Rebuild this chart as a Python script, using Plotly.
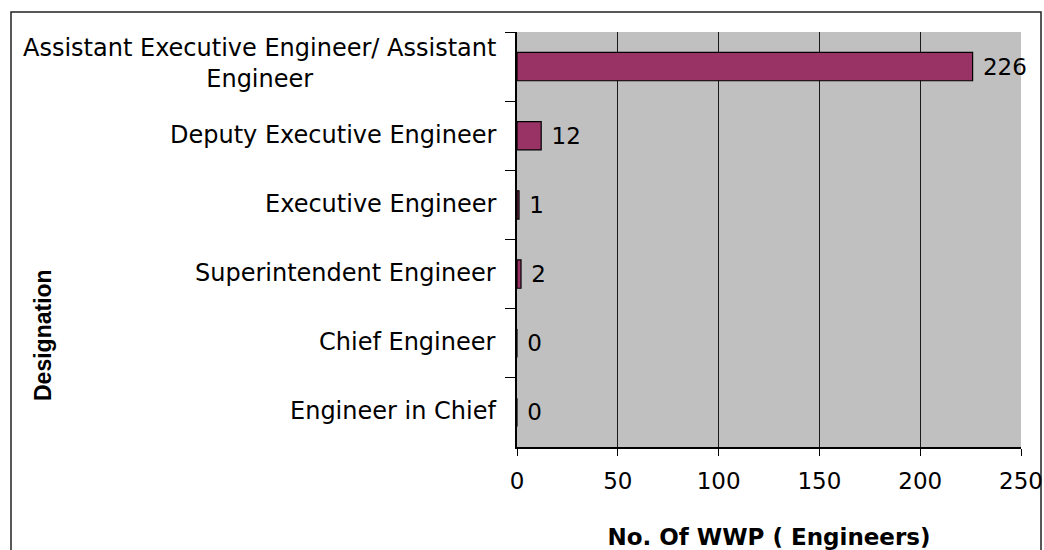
import plotly.graph_objects as go

categories = [
    "Assistant Executive Engineer/ Assistant<br>Engineer",
    "Deputy Executive Engineer",
    "Executive Engineer",
    "Superintendent Engineer",
    "Chief Engineer",
    "Engineer in Chief",
]
values = [226, 12, 1, 2, 0, 0]
x_ticks = [0, 50, 100, 150, 200, 250]
x_title = "No. Of WWP ( Engineers)"
y_title = "Designation"

FONT = "DejaVu Sans"
FS = 23

fig = go.Figure()
fig.add_trace(go.Bar(
    x=values,
    y=categories,
    orientation="h",
    marker=dict(color="#993366", line=dict(color="#000000", width=1.2)),
    text=[str(v) for v in values],
    texttemplate=" %{text}",
    textposition="outside",
    textfont=dict(family=FONT, size=FS, color="#000000"),
    cliponaxis=False,
    width=0.41,
    showlegend=False,
))

# category labels (centered multi-line block, right-aligned to the axis)
for i, c in enumerate(categories):
    fig.add_annotation(
        x=0, xref="paper", y=c, yref="y",
        xanchor="right", yanchor="middle", xshift=-19,
        yshift=3 if i == 0 else 1,
        text=c, showarrow=False, align="center",
        font=dict(family=FONT, size=24, color="#000000"),
    )

fig.add_annotation(
    x=(43 - 517) / 504, xref="paper", y=(447 - 335) / 415, yref="paper",
    xanchor="center", yanchor="middle", textangle=-90,
    text="<b>" + y_title + "</b>", showarrow=False,
    font=dict(family="Liberation Sans", size=23, color="#000000"),
)

# outer chart border
fig.add_shape(
    type="rect", xref="paper", yref="paper",
    x0=(11 - 517) / 504, x1=(1041 - 517) / 504,
    y0=(447 - 570) / 415, y1=(447 - 12) / 415,
    line=dict(color="#222222", width=1.5), fillcolor="rgba(0,0,0,0)",
    layer="below",
)

fig.update_layout(
    width=1044, height=550,
    autosize=False,
    margin=dict(l=517, r=23, t=32, b=103, autoexpand=False),
    paper_bgcolor="#FFFFFF",
    plot_bgcolor="#C0C0C0",
    font=dict(family=FONT, size=FS, color="#000000"),
    xaxis=dict(
        range=[0, 250],
        tickvals=x_ticks,
        ticktext=[str(t) for t in x_ticks],
        ticks="outside", ticklen=7, tickcolor="#000000", tickwidth=1,
        showline=True, linecolor="#000000", linewidth=1.5,
        showgrid=True, gridcolor="#1a1a1a", gridwidth=1,
        zeroline=False, automargin=False,
        ticklabelstandoff=6,
        tickfont=dict(family=FONT, size=FS),
        title=dict(text="<b>" + x_title + "</b>", standoff=38,
                   font=dict(family=FONT, size=FS)),
    ),
    yaxis=dict(
        categoryorder="array", categoryarray=categories,
        autorange="reversed",
        showticklabels=False,
        ticks="outside", ticklen=10, tickcolor="#000000", tickwidth=1,
        tickson="boundaries", automargin=False,
        showline=True, linecolor="#000000", linewidth=1.5,
        showgrid=False, zeroline=False,
    ),
)

post = (
    "document.body.style.margin='0';"
    "document.body.style.padding='0';"
    "document.body.style.overflow='hidden';"
    "document.documentElement.style.overflow='hidden';"
)
fig.write_html("out.html", post_script=post,
               config={"displayModeBar": False, "responsive": False})
